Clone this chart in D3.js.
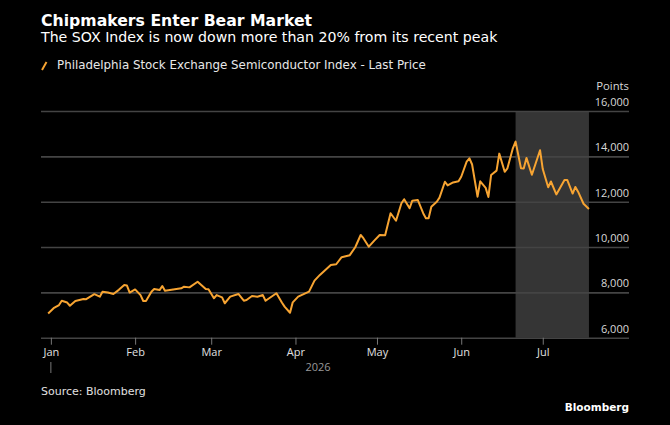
<!DOCTYPE html>
<html>
<head>
<meta charset="utf-8">
<script src="https://cdn.jsdelivr.net/npm/d3@7"></script>
<style>
  html, body { margin: 0; padding: 0; background: #000; }
  svg { display: block; font-family: "DejaVu Sans", sans-serif; }
</style>
</head>
<body>
<div id="vis"></div>
<script>
// Data
const DATES = ["2025-12-31","2026-01-02","2026-01-04","2026-01-05","2026-01-07","2026-01-08","2026-01-10",
  "2026-01-13","2026-01-14","2026-01-17","2026-01-19","2026-01-20","2026-01-22","2026-01-24","2026-01-26",
  "2026-01-28","2026-01-29","2026-01-30","2026-02-01","2026-02-03","2026-02-04","2026-02-05","2026-02-07",
  "2026-02-08","2026-02-10","2026-02-11","2026-02-12","2026-02-15","2026-02-18","2026-02-19","2026-02-21",
  "2026-02-24","2026-02-27","2026-02-28","2026-03-02","2026-03-03","2026-03-05","2026-03-06","2026-03-08",
  "2026-03-11","2026-03-13","2026-03-14","2026-03-16","2026-03-18","2026-03-20","2026-03-21","2026-03-25",
  "2026-03-27","2026-03-28","2026-03-30","2026-03-31","2026-04-02","2026-04-04","2026-04-06","2026-04-08",
  "2026-04-10","2026-04-14","2026-04-16","2026-04-18","2026-04-21","2026-04-23","2026-04-25","2026-04-26",
  "2026-04-28","2026-04-30","2026-05-02","2026-05-04","2026-05-06","2026-05-08","2026-05-10","2026-05-11",
  "2026-05-13","2026-05-14","2026-05-16","2026-05-18","2026-05-19","2026-05-20","2026-05-21","2026-05-23",
  "2026-05-24","2026-05-26","2026-05-27","2026-05-29","2026-05-31","2026-06-01","2026-06-03","2026-06-04",
  "2026-06-05","2026-06-07","2026-06-08","2026-06-10","2026-06-11","2026-06-12","2026-06-14","2026-06-15",
  "2026-06-17","2026-06-18","2026-06-20","2026-06-21","2026-06-23","2026-06-24","2026-06-25","2026-06-27",
  "2026-06-30","2026-07-01","2026-07-03","2026-07-04","2026-07-06","2026-07-09","2026-07-10","2026-07-12",
  "2026-07-13","2026-07-14","2026-07-16","2026-07-18"];

const SOX_VALUES = [7070,7300,7440,7630,7550,7410,7620,
  7710,7700,7920,7810,8030,7990,7930,8110,
  8320,8300,7990,8130,7880,7620,7620,8030,
  8150,8100,8280,8070,8130,8180,8250,8220,
  8470,8150,8135,7740,7880,7780,7520,7810,
  7930,7630,7660,7840,7810,7880,7630,7960,
  7550,7370,7100,7560,7810,7920,8030,8520,
  8770,9210,9240,9550,9640,9990,10530,10390,
  10015,10280,10530,10520,11490,11160,11930,12110,
  11710,12045,12075,11490,11270,11270,11780,12000,
  12180,12880,12720,12850,12900,13100,13770,13915,
  13640,12220,12900,12610,12210,13180,13370,14120,
  13320,13470,14356,14650,13470,13460,13930,13190,
  14270,13440,12636,12890,12320,12960,12960,12360,
  12650,12440,11910,11680];

const MONTH_TICKS = ["2026-01-01","2026-02-01","2026-03-01","2026-04-01","2026-05-01","2026-06-01","2026-07-01"];
const Y_TICKS = [6000, 8000, 10000, 12000, 14000, 16000];
const SHADE_RANGE = ["2026-06-21", "2026-07-18"];
const X_DOMAIN = ["2025-12-28", "2026-08-01"];

// Frame constants
const FRAME_WIDTH = 670;
const FRAME_HEIGHT = 425;
const PLOT = {left: 40, right: 627, top: 111, bottom: 337.7, gridRight: 629};
const AXIS_FONT = "'Open Sans', sans-serif";

const parseDate = d3.timeParse("%Y-%m-%d");
const data = DATES.map((d, i) => ({date: parseDate(d), value: SOX_VALUES[i]}));

const FRAME = d3.select("#vis")
  .append("svg")
    .attr("width", FRAME_WIDTH)
    .attr("height", FRAME_HEIGHT);

FRAME.append("rect")
  .attr("width", FRAME_WIDTH)
  .attr("height", FRAME_HEIGHT)
  .attr("fill", "#000");

// Scales
const X_SCALE = d3.scaleTime()
  .domain(X_DOMAIN.map(parseDate))
  .range([PLOT.left, PLOT.right]);

const Y_SCALE = d3.scaleLinear()
  .domain([6000, 16000])
  .range([PLOT.bottom, PLOT.top]);

// Shaded bear-market period
FRAME.append("rect")
  .attr("x", X_SCALE(parseDate(SHADE_RANGE[0])))
  .attr("y", Y_SCALE(16000))
  .attr("width", X_SCALE(parseDate(SHADE_RANGE[1])) - X_SCALE(parseDate(SHADE_RANGE[0])))
  .attr("height", Y_SCALE(6000) - Y_SCALE(16000))
  .attr("fill", "#353535");

// Gridlines and y labels (right side, labels sit above the lines)
const yAxis = FRAME.append("g")
  .attr("transform", "translate(" + PLOT.gridRight + ",0)")
  .call(d3.axisLeft(Y_SCALE)
    .tickValues(Y_TICKS)
    .tickSize(PLOT.gridRight - 41)
    .tickFormat(d3.format(",")));
yAxis.select(".domain").remove();
yAxis.selectAll(".tick line")
  .attr("stroke", "#444")
  .attr("stroke-width", 1.6);
yAxis.selectAll(".tick text")
  .attr("x", 0)
  .attr("y", -5.5)
  .attr("dy", 0)
  .attr("text-anchor", "end")
  .attr("fill", "#d8d8d8")
  .style("font-family", AXIS_FONT)
  .style("font-size", "11px");

FRAME.append("text")
  .attr("x", PLOT.gridRight)
  .attr("y", 90)
  .attr("text-anchor", "end")
  .attr("fill", "#d8d8d8")
  .style("font-family", AXIS_FONT)
  .style("font-size", "11.3px")
  .text("Points");

// X axis month ticks
const xAxis = FRAME.append("g")
  .attr("transform", "translate(0," + PLOT.bottom + ")")
  .call(d3.axisBottom(X_SCALE)
    .tickValues(MONTH_TICKS.map(parseDate))
    .tickSize(7)
    .tickPadding(4)
    .tickFormat(d3.timeFormat("%b")));
xAxis.select(".domain").remove();
xAxis.selectAll(".tick line").attr("stroke", "#777");
xAxis.selectAll(".tick text")
  .attr("fill", "#e0e0e0")
  .style("font-family", AXIS_FONT)
  .style("font-size", "11px");

// Year tick and label
FRAME.append("line")
  .attr("x1", X_SCALE(parseDate(MONTH_TICKS[0])))
  .attr("x2", X_SCALE(parseDate(MONTH_TICKS[0])))
  .attr("y1", 362)
  .attr("y2", 373)
  .attr("stroke", "#777");

FRAME.append("text")
  .attr("x", 318)
  .attr("y", 371)
  .attr("text-anchor", "middle")
  .attr("fill", "#999")
  .style("font-family", AXIS_FONT)
  .style("font-size", "11px")
  .text("2026");

// Price line
const line = d3.line()
  .x((d) => X_SCALE(d.date))
  .y((d) => Y_SCALE(d.value));

FRAME.append("path")
  .datum(data)
  .attr("d", line)
  .attr("fill", "none")
  .attr("stroke", "#f7a432")
  .attr("stroke-width", 2)
  .attr("stroke-linejoin", "round");

// Title and subtitle
FRAME.append("text")
  .attr("x", 41)
  .attr("y", 26)
  .attr("fill", "#fff")
  .style("font-size", "15.7px")
  .style("font-weight", "bold")
  .text("Chipmakers Enter Bear Market");

FRAME.append("text")
  .attr("x", 41)
  .attr("y", 42)
  .attr("fill", "#fff")
  .style("font-size", "14.15px")
  .text("The SOX Index is now down more than 20% from its recent peak");

// Legend
FRAME.append("line")
  .attr("x1", 42)
  .attr("y1", 70)
  .attr("x2", 46.5)
  .attr("y2", 62)
  .attr("stroke", "#f7a432")
  .attr("stroke-width", 2);

FRAME.append("text")
  .attr("x", 57)
  .attr("y", 69)
  .attr("fill", "#e8e8e8")
  .style("font-size", "11.85px")
  .text("Philadelphia Stock Exchange Semiconductor Index - Last Price");

// Footer
FRAME.append("text")
  .attr("x", 41)
  .attr("y", 394.5)
  .attr("fill", "#e0e0e0")
  .style("font-size", "11px")
  .text("Source: Bloomberg");

FRAME.append("text")
  .attr("x", PLOT.gridRight)
  .attr("y", 411)
  .attr("text-anchor", "end")
  .attr("fill", "#fff")
  .style("font-size", "10.5px")
  .style("font-weight", "bold")
  .text("Bloomberg");
</script>
</body>
</html>
